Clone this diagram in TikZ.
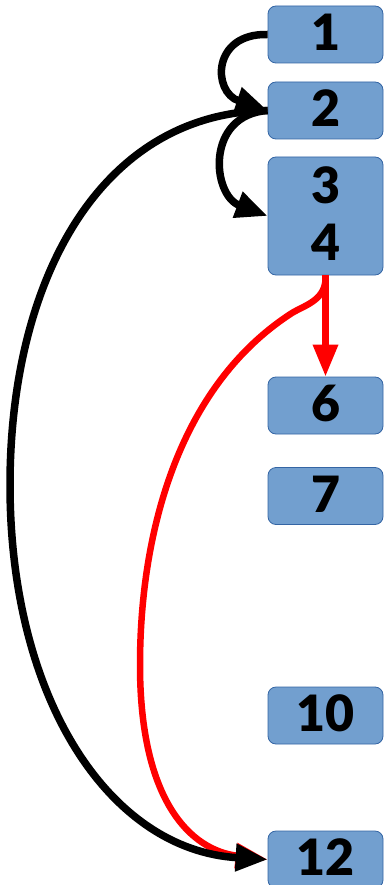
\documentclass[tikz,border=0pt]{standalone}
\usepackage{fontspec}
\setmainfont{Lato}[BoldFont={Lato Black}]
\usetikzlibrary{arrows.meta}
\definecolor{boxfill}{HTML}{729FCF}
\definecolor{boxline}{HTML}{3465A4}
\newcommand{\lift}[1]{\raisebox{4pt}{#1}}
\begin{document}
\begin{tikzpicture}[x=1pt,y=-1pt,
  item/.style={draw=boxline, line width=0.8pt, fill=boxfill, rounded corners=8pt,
    minimum width=115pt, minimum height=57pt, inner sep=0pt, align=center,
    font=\fontsize{50}{57}\selectfont\bfseries},
  link/.style={line width=7.5pt, -{Triangle[length=32pt,width=26pt]}},
  redlink/.style={red, line width=6.5pt, -{Triangle[length=32pt,width=24pt]}}]
\useasboundingbox (0,0) rectangle (384,885);
\node[item] (b1)  at (325.5,34.5)  {\lift{1}};
\node[item] (b2)  at (325.5,110.5) {\lift{2}};
\node[item, minimum height=118pt] (b34) at (325.5,216) {\lift{3}\\\lift{4}};
\node[item] (b6)  at (325.5,405.5) {\lift{6}};
\node[item] (b7)  at (325.5,496)   {\lift{7}};
\node[item] (b10) at (325.5,715.5) {\lift{10}};
\node[item] (b12) at (325.5,859.5) {\lift{12}};
% red connectors leaving the 3/4 block
\draw[redlink] (b34.south) -- (b6.north);
\draw[redlink] (b34.south) .. controls (327,300) and (305,305) .. (292,313)
  .. controls (180,385) and (140,530) .. (140,665)
  .. controls (140,800) and (190,850) .. (b12.west);
% black connectors
\draw[link] (b1.west) .. controls (212,33) and (212,92) .. (b2.west);
\draw[link] (b2.west) .. controls (205,115) and (212,195) .. (b34.west);
\draw[link] (b2.west) .. controls (100,113) and (10,280) .. (10,485)
  .. controls (10,700) and (110,850) .. (b12.west);
\end{tikzpicture}
\end{document}
